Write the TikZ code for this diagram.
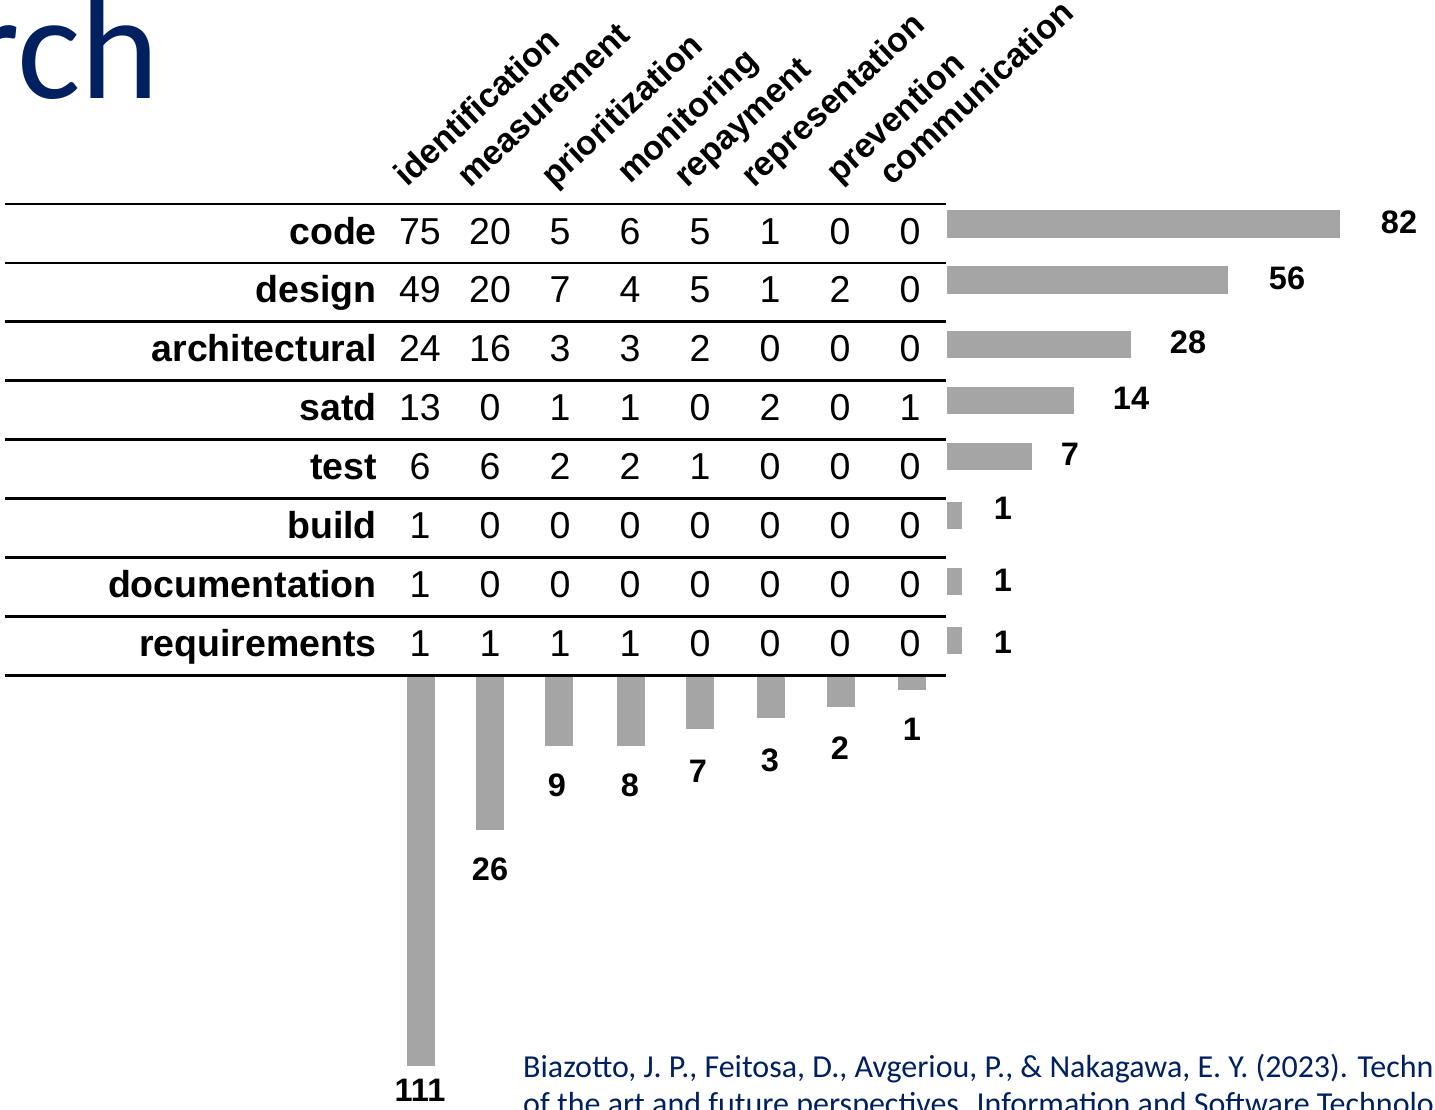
\documentclass[tikz,border=0pt]{standalone}
\usepackage{fontspec}
\setmainfont{Liberation Sans}
\newfontfamily\calibri{Carlito}
\definecolor{navy}{RGB}{0,32,96}
\definecolor{bargray}{RGB}{165,165,165}
\tikzset{
  cell/.style={font=\fontsize{37.5}{45}\selectfont, anchor=base, inner sep=0pt},
  rowlabel/.style={font=\bfseries\fontsize{37.5}{45}\selectfont, anchor=base east, inner sep=0pt},
  colhead/.style={font=\bfseries\fontsize{34}{40}\selectfont, anchor=base west, rotate=43, inner sep=0pt},
  total/.style={font=\bfseries\fontsize{32.5}{38}\selectfont, inner sep=0pt},
  rule/.style={line width=2.8pt},
  bar/.style={fill=bargray, draw=none},
  cite/.style={font=\calibri\fontsize{32}{38}\selectfont, text=navy, anchor=base west, inner sep=0pt},
}
\begin{document}
\begin{tikzpicture}[x=1pt,y=-1pt]
\useasboundingbox (0,0) rectangle (1435,1109);
\clip (0,0) rectangle (1435,1109);

% slide title (continues off the left edge)
\node[anchor=base west, font=\calibri\fontsize{150}{150}\selectfont, text=navy, inner sep=0pt] (title) at (-33,98) {rch};

% column headers
\foreach \name/\x/\y [count=\j] in {identification/407/188, measurement/470/189,
    prioritization/554/189, monitoring/630/185, repayment/687/189,
    representation/754/189, prevention/839/185, communication/892/187}
  \node[colhead] (h\j) at (\x,\y) {\name};

% horizontal rules of the table
\foreach \k in {0,...,8}
  \draw[rule] (5,204+58.9*\k) -- (946,204+58.9*\k);

% row labels and counts
\foreach \lab/\vals [count=\i] in {
    code/{75,20,5,6,5,1,0,0},
    design/{49,20,7,4,5,1,2,0},
    architectural/{24,16,3,3,2,0,0,0},
    satd/{13,0,1,1,0,2,0,1},
    test/{6,6,2,2,1,0,0,0},
    build/{1,0,0,0,0,0,0,0},
    documentation/{1,0,0,0,0,0,0,0},
    requirements/{1,1,1,1,0,0,0,0}} {
  \node[rowlabel] (r\i) at (377,244+58.9*\i-58.9) {\lab};
  \foreach \v [count=\j] in \vals
    \node[cell] (c\i-\j) at (420+70*\j-70,244+58.9*\i-58.9) {\v};
}

% row totals (bars to the right)
\foreach \top/\bot/\right/\lx/\ly/\t [count=\i] in {
    210/238/1340/1399/222/82,
    266/294/1228/1287/278/56,
    331/358/1131/1188/342/28,
    387/414/1074/1131/398/14,
    443/470/1032/1070/454/7,
    502/529/962/1003/508/1,
    568/595/962/1003/580/1,
    627/654/962/1003/642/1} {
  \fill[bar] (947,\top) rectangle (\right,\bot);
  \node[total] (rt\i) at (\lx,\ly) {\t};
}

% column totals (bars below)
\foreach \cx/\bot/\lx/\ly/\t [count=\j] in {
    421/1066/420/1090/111,
    490/830/490/869/26,
    559/746/557/785/9,
    631/746/630/785/8,
    700/729/698/771/7,
    771/718/770/760/3,
    841/707/840/748/2,
    912/690/912/729/1} {
  \fill[bar] (\cx-14,677) rectangle (\cx+14,\bot);
  \node[total] (ct\j) at (\lx,\ly) {\t};
}

% reference
\node[cite] (cite1) at (523,1077) {Biazotto, J. P., Feitosa, D., Avgeriou, P., \& Nakagawa, E. Y. (2023). Technical};
\node[cite] (cite2) at (523,1114) {of the art and future perspectives. Information and Software Technology};
\end{tikzpicture}
\end{document}
